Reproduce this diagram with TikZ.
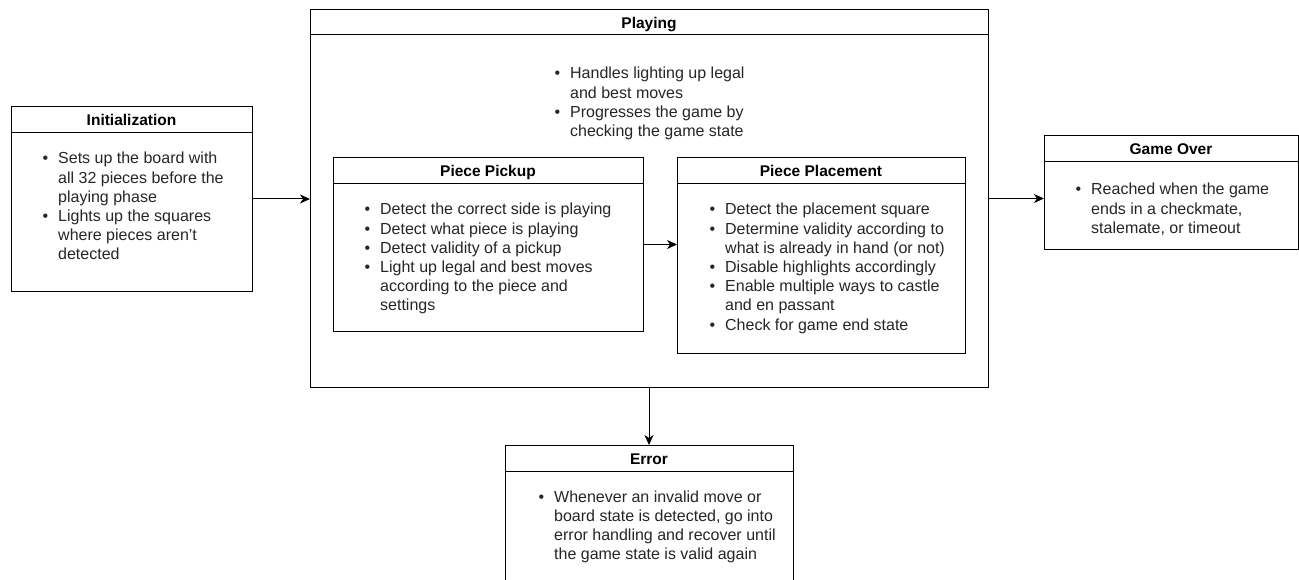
\documentclass[tikz,border=0pt]{standalone}
\usepackage{fontspec}
\setmainfont{Liberation Sans}
\usetikzlibrary{arrows.meta,calc}
\newcommand{\bu}{\makebox[15.6pt][l]{\textbullet}}
\newcommand{\nb}{\hspace*{15.6pt}}
\begin{document}
\begin{tikzpicture}[x=1pt,y=-1pt,
  box/.style={draw=black, line width=1pt, fill=white, anchor=north west, inner sep=0pt, outer sep=0pt},
  hdr/.style={draw=black, line width=1pt},
  ttl/.style={font=\fontsize{15.5}{18}\selectfont\bfseries, anchor=base, inner sep=0pt},
  body/.style={font=\fontsize{16}{19.2}\selectfont, anchor=base west, inner sep=0pt, text=black!85},
  arr/.style={line width=1pt, -{Stealth[length=10pt,width=9pt,inset=3pt]}},
]
\useasboundingbox (0,0) rectangle (1299,580);
\fill[white] (0,0) rectangle (1299,580);

% boxes
\node[box, minimum width=241pt, minimum height=184pt] (init) at (11,107) {};
\node[box, minimum width=678pt, minimum height=377pt] (playing) at (310,10) {};
\node[box, minimum width=310pt, minimum height=173pt] (pickup) at (333,158) {};
\node[box, minimum width=288pt, minimum height=195pt] (placement) at (677,158) {};
\node[box, minimum width=254pt, minimum height=114pt] (gameover) at (1044,136) {};
\node[box, minimum width=288pt, minimum height=145pt] (error) at (505,445) {};

% header separators
\draw[hdr] ([yshift=-26pt]init.north west) -- ([yshift=-26pt]init.north east);
\draw[hdr] ([yshift=-25pt]playing.north west) -- ([yshift=-25pt]playing.north east);
\draw[hdr] ([yshift=-26pt]pickup.north west) -- ([yshift=-26pt]pickup.north east);
\draw[hdr] ([yshift=-26pt]placement.north west) -- ([yshift=-26pt]placement.north east);
\draw[hdr] ([yshift=-26pt]gameover.north west) -- ([yshift=-26pt]gameover.north east);
\draw[hdr] ([yshift=-26pt]error.north west) -- ([yshift=-26pt]error.north east);

% titles
\node[ttl] (initT) at ($(init.north)+(0,19)$) {Initialization};
\node[ttl] (playingT) at ($(playing.north)+(0,19)$) {Playing};
\node[ttl] (pickupT) at ($(pickup.north)+(0,19)$) {Piece Pickup};
\node[ttl] (placementT) at ($(placement.north)+(0,19)$) {Piece Placement};
\node[ttl] (gameoverT) at ($(gameover.north)+(0,19)$) {Game Over};
\node[ttl] (errorT) at ($(error.north)+(0,19)$) {Error};

% bodies
\node[body] (initB) at (42.4,164) {\begin{tabular}[t]{@{}l@{}}
\bu Sets up the board with\\
\nb all 32 pieces before the\\
\nb playing phase\\
\bu Lights up the squares\\
\nb where pieces aren't\\
\nb detected
\end{tabular}};

\node[body] (playingB) at (554.4,79) {\begin{tabular}[t]{@{}l@{}}
\bu Handles lighting up legal\\
\nb and best moves\\
\bu Progresses the game by\\
\nb checking the game state
\end{tabular}};

\node[body] (pickupB) at (364.4,215) {\begin{tabular}[t]{@{}l@{}}
\bu Detect the correct side is playing\\
\bu Detect what piece is playing\\
\bu Detect validity of a pickup\\
\bu Light up legal and best moves\\
\nb according to the piece and\\
\nb settings
\end{tabular}};

\node[body] (placementB) at (709.4,215) {\begin{tabular}[t]{@{}l@{}}
\bu Detect the placement square\\
\bu Determine validity according to\\
\nb what is already in hand (or not)\\
\bu Disable highlights accordingly\\
\bu Enable multiple ways to castle\\
\nb and en passant\\
\bu Check for game end state
\end{tabular}};

\node[body] (gameoverB) at (1075.4,195) {\begin{tabular}[t]{@{}l@{}}
\bu Reached when the game\\
\nb ends in a checkmate,\\
\nb stalemate, or timeout
\end{tabular}};

\node[body] (errorB) at (538.4,502) {\begin{tabular}[t]{@{}l@{}}
\bu Whenever an invalid move or\\
\nb board state is detected, go into\\
\nb error handling and recover until\\
\nb the game state is valid again
\end{tabular}};

% connectors
\draw[arr] (init.east) -- (init.east -| playing.west);
\draw[arr] (pickup.east) -- (pickup.east -| placement.west);
\draw[arr] (playing.east) -- (playing.east -| gameover.west);
\draw[arr] (playing.south) -- (error.north);
\end{tikzpicture}
\end{document}
